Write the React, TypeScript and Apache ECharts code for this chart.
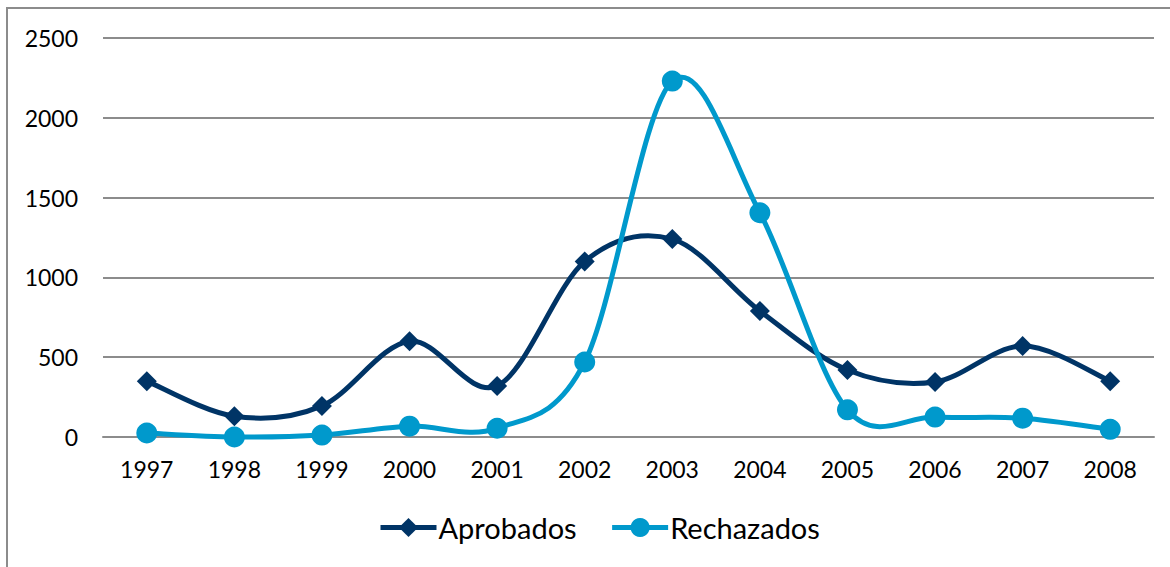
import React, { useEffect, useRef } from "react";
import * as echarts from "echarts";

const years = ["1997", "1998", "1999", "2000", "2001", "2002", "2003", "2004", "2005", "2006", "2007", "2008"];
const aprobados = [350, 130, 195, 600, 320, 1100, 1240, 790, 420, 345, 570, 350];
const rechazados = [25, 0, 12, 68, 55, 470, 2230, 1405, 170, 125, 118, 48];
const yTicks = { min: 0, max: 2500, interval: 500 };

const NAVY = "#003466";
const CYAN = "#0099cc";

function smoothCurve(values: number[], color: string) {
  return (_params: any, api: any) => {
    const pts = values.map((v, i) => api.coord([i, v]));
    const n = pts.length;
    let d = `M${pts[0][0]},${pts[0][1]}`;
    for (let i = 0; i < n - 1; i++) {
      const p0 = pts[i - 1] || pts[i];
      const p1 = pts[i];
      const p2 = pts[i + 1];
      const p3 = pts[i + 2] || pts[i + 1];
      const c1x = p1[0] + (p2[0] - p0[0]) / 6;
      const c1y = p1[1] + (p2[1] - p0[1]) / 6;
      const c2x = p2[0] - (p3[0] - p1[0]) / 6;
      const c2y = p2[1] - (p3[1] - p1[1]) / 6;
      d += ` C${c1x},${c1y} ${c2x},${c2y} ${p2[0]},${p2[1]}`;
    }
    return {
      type: "path",
      shape: { pathData: d },
      style: { stroke: color, lineWidth: 5, fill: "none", lineJoin: "round", lineCap: "round" },
    };
  };
}

export default function App() {
  const ref = useRef<HTMLDivElement>(null);
  useEffect(() => {
    const chart = echarts.init(ref.current!, null, { renderer: "svg" });
    const font = "Lato, 'Open Sans', sans-serif";
    chart.setOption({
      animation: false,
      backgroundColor: "#ffffff",
      graphic: [
        {
          type: "rect",
          shape: { x: 7, y: 8, width: 1200, height: 600 },
          style: { fill: "none", stroke: "#8c8c8c", lineWidth: 2 },
          silent: true,
        },
      ],
      grid: { left: 103, right: 16, top: 38, bottom: 130 },
      legend: {
        top: 513,
        left: 378,
        padding: 0,
        itemWidth: 56,
        itemHeight: 24,
        itemGap: 33,
        lineStyle: { width: 5, opacity: 1 },
        textStyle: { fontFamily: font, fontSize: 29, color: "#000", padding: [0, 0, 0, -3] },
        data: ["Aprobados", "Rechazados"],
      },
      xAxis: {
        type: "category",
        data: years,
        boundaryGap: true,
        axisLine: { show: true, lineStyle: { color: "#8c8c8c", width: 2 } },
        axisTick: { show: false },
        axisLabel: { fontFamily: font, fontSize: 23, color: "#000", margin: 20 },
      },
      yAxis: {
        type: "value",
        min: yTicks.min,
        max: yTicks.max,
        interval: yTicks.interval,
        axisLine: { show: false },
        axisTick: { show: false },
        splitLine: { lineStyle: { color: "#8c8c8c", width: 2 } },
        axisLabel: {
          fontFamily: font,
          fontSize: 23,
          color: "#000",
          margin: 25,
          formatter: (v: number) => String(v),
        },
      },
      series: [
        {
          name: "Aprobados curve",
          type: "custom",
          silent: true,
          data: [[0, 0]],
          renderItem: smoothCurve(aprobados, NAVY),
          z: 2,
        },
        {
          name: "Aprobados",
          type: "line",
          data: aprobados,
          symbol: "diamond",
          symbolSize: 20,
          lineStyle: { color: NAVY, width: 5, opacity: 0 },
          itemStyle: { color: NAVY },
          z: 3,
        },
        {
          name: "Rechazados curve",
          type: "custom",
          silent: true,
          data: [[0, 0]],
          renderItem: smoothCurve(rechazados, CYAN),
          z: 4,
        },
        {
          name: "Rechazados",
          type: "line",
          data: rechazados,
          symbol: "circle",
          symbolSize: 21,
          lineStyle: { color: CYAN, width: 5, opacity: 0 },
          itemStyle: { color: CYAN },
          z: 5,
        },
      ],
    });
    return () => chart.dispose();
  }, []);
  return <div ref={ref} style={{ position: "fixed", left: 0, top: 0, width: 1170, height: 567 }} />;
}
